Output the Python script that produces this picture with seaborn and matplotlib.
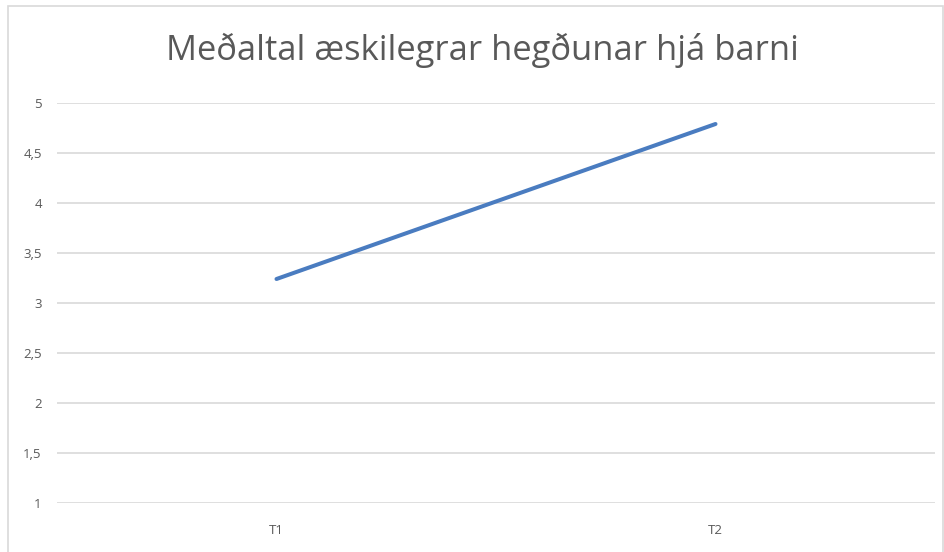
import pandas as pd
import seaborn as sns
from matplotlib import pyplot as plt
from matplotlib.patches import Rectangle

# gögn lesin af myndinni
timar = ['T1', 'T2']
medaltal = [3.24, 4.79]
y_ticks = [1, 1.5, 2, 2.5, 3, 3.5, 4, 4.5, 5]

df = pd.DataFrame({'timi': timar, 'medaltal': medaltal})

sns.set_theme(style='white')
plt.rcParams['font.family'] = ['Open Sans', 'DejaVu Sans']

fig = plt.figure(figsize=(9.44, 5.52), dpi=100)
ax = fig.add_axes([57/944, 1 - 503/552, (935 - 57)/944, 400/552])

sns.lineplot(data=df, x='timi', y='medaltal', ax=ax, color='#4A7CC0', linewidth=2.9,
             solid_capstyle='round', sort=False)

ax.set_xlim(-0.5, 1.5)
ax.set_ylim(1, 5)
ax.set_yticks(y_ticks)
ax.set_yticklabels([str(v).replace('.', ',').replace(',0', '') for v in y_ticks])
ax.grid(axis='y', color='#D9D9D9', linewidth=1.2)
ax.set_axisbelow(True)
for s in ax.spines.values():
    s.set_visible(False)
ax.tick_params(axis='both', length=0, labelsize=9.5, labelcolor='#595959')
ax.tick_params(axis='y', pad=11)
ax.tick_params(axis='x', pad=15)
ax.set_xlabel('')
ax.set_ylabel('')

fig.text(482/944, 1 - 50/552, 'Meðaltal æskilegrar hegðunar hjá barni', ha='center', va='center',
         fontsize=24.8, color='#595959')

# rammi utan um myndina
fig.patches.append(Rectangle((7.5/944, -0.1), 935/944, 1.1 - 5.5/552, transform=fig.transFigure,
                             fill=False, edgecolor='#D9D9D9', linewidth=1.2))

plt.savefig('out.png', dpi=100)
